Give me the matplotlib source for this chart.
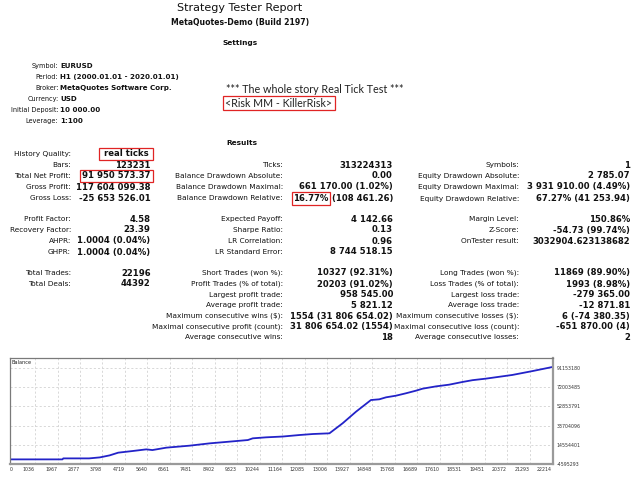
import matplotlib
matplotlib.use("Agg")
import matplotlib.pyplot as plt
from matplotlib.patches import Rectangle

# ---------------- data ----------------
report_title = "Strategy Tester Report"
report_subtitle = "MetaQuotes-Demo (Build 2197)"
settings_header = "Settings"
results_header = "Results"

settings_labels = ["Symbol:", "Period:", "Broker:", "Currency:", "Initial Deposit:", "Leverage:"]
settings_values = ["EURUSD", "H1 (2000.01.01 - 2020.01.01)", "MetaQuotes Software Corp.",
                   "USD", "10 000.00", "1:100"]

note_lines = ["*** The whole story Real Tick Test ***", "<Risk MM - KillerRisk>"]

history_label = "History Quality:"
history_value = "real ticks"

col1_labels = ["Bars:", "Total Net Profit:", "Gross Profit:", "Gross Loss:",
               "Profit Factor:", "Recovery Factor:", "AHPR:", "GHPR:",
               "Total Trades:", "Total Deals:", "", "", "", "", ""]
col1_values = ["123231", "91 950 573.37", "117 604 099.38", "-25 653 526.01",
               "4.58", "23.39", "1.0004 (0.04%)", "1.0004 (0.04%)",
               "22196", "44392", "", "", "", "", ""]
col2_labels = ["Ticks:", "Balance Drawdown Absolute:", "Balance Drawdown Maximal:",
               "Balance Drawdown Relative:", "Expected Payoff:", "Sharpe Ratio:",
               "LR Correlation:", "LR Standard Error:", "Short Trades (won %):",
               "Profit Trades (% of total):", "Largest profit trade:",
               "Average profit trade:", "Maximum consecutive wins ($):",
               "Maximal consecutive profit (count):", "Average consecutive wins:"]
col2_values = ["313224313", "0.00", "661 170.00 (1.02%)", "16.77%|(108 461.26)",
               "4 142.66", "0.13", "0.96", "8 744 518.15", "10327 (92.31%)",
               "20203 (91.02%)", "958 545.00", "5 821.12", "1554 (31 806 654.02)",
               "31 806 654.02 (1554)", "18"]
col3_labels = ["Symbols:", "Equity Drawdown Absolute:", "Equity Drawdown Maximal:",
               "Equity Drawdown Relative:", "Margin Level:", "Z-Score:",
               "OnTester result:", "", "Long Trades (won %):",
               "Loss Trades (% of total):", "Largest loss trade:", "Average loss trade:",
               "Maximum consecutive losses ($):", "Maximal consecutive loss (count):",
               "Average consecutive losses:"]
col3_values = ["1", "2 785.07", "3 931 910.00 (4.49%)", "67.27% (41 253.94)",
               "150.86%", "-54.73 (99.74%)", "3032904.623138682", "",
               "11869 (89.90%)", "1993 (8.98%)", "-279 365.00", "-12 871.81",
               "6 (-74 380.35)", "-651 870.00 (4)", "2"]

# balance curve (deal number vs balance)
balance_trades = [0, 2170, 2200, 3260, 3700, 4100, 4450, 5060, 5600, 5850, 6420,
                  7380, 8200, 9150, 9760, 9960, 10510, 11190, 11870, 12420, 13100,
                  13640, 14190, 14800, 15140, 15420, 15820, 16230, 16640, 16910,
                  17460, 18000, 18550, 18960, 19500, 20590, 21400, 22196]
balance_values = [10000, 10000, 1.0e6, 1.0e6, 2.0e6, 4.0e6, 6.7e6, 8.4e6, 10.0e6,
                  9.3e6, 11.7e6, 13.7e6, 16.0e6, 18.0e6, 19.3e6, 21.0e6, 22.0e6,
                  22.8e6, 24.3e6, 25.3e6, 26.0e6, 36.0e6, 47.6e6, 59.2e6, 59.9e6,
                  61.9e6, 63.5e6, 65.9e6, 68.5e6, 70.5e6, 72.8e6, 74.5e6, 77.2e6,
                  79.0e6, 80.5e6, 84.2e6, 88.0e6, 91960573]
x_ticks = [0, 1036, 1967, 2877, 3798, 4719, 5640, 6561, 7481, 8402, 9323, 10244,
           11164, 12085, 13006, 13927, 14848, 15768, 16689, 17610, 18531, 19451,
           20372, 21293, 22214]
y_ticks = [-4595293, 14554401, 33704096, 52853791, 72003485, 91153180]

# ---------------- layout ----------------
fig = plt.figure(figsize=(6.4, 4.8), dpi=100)
bg = fig.add_axes([0, 0, 1, 1])
bg.set_xlim(0, 640)
bg.set_ylim(480, 0)
bg.axis("off")

TXT = "#111111"
RED = "#e02424"
LBL_FS = 5.3
VAL_FS = 6.1

bg.text(240, 8, report_title, fontsize=8.0, ha="center", va="center", color=TXT)
bg.text(240, 22, report_subtitle, fontsize=5.6, fontweight="bold", ha="center",
        va="center", color=TXT)
bg.text(240, 43, settings_header, fontsize=5.3, fontweight="bold", ha="center",
        va="center", color=TXT)
bg.text(242, 143, results_header, fontsize=5.3, fontweight="bold", ha="center",
        va="center", color=TXT)

settings_y = [65.7, 77, 88.3, 99.3, 110.3, 121.3]
for lab, val, y in zip(settings_labels, settings_values, settings_y):
    bg.text(58.5, y, lab, fontsize=4.7, ha="right", va="center", color=TXT)
    bg.text(60.5, y, val, fontsize=5.1, fontweight="bold", ha="left", va="center",
            color=TXT)

renderer = fig.canvas.get_renderer()
inv = bg.transData.inverted()


def box_around(txt, padx=2.0, pady=1.5):
    bb = txt.get_window_extent(renderer)
    (x0, y0) = inv.transform((bb.x0, bb.y0))
    (x1, y1) = inv.transform((bb.x1, bb.y1))
    top, bot = min(y0, y1), max(y0, y1)
    bg.add_patch(Rectangle((x0 - padx, top - pady), (x1 - x0) + 2 * padx,
                           (bot - top) + 2 * pady, fill=False, edgecolor=RED,
                           linewidth=0.9))


bg.text(226, 89.3, note_lines[0], fontsize=7.75, family="Lato", ha="left",
        va="center", color="#222222")
t_note = bg.text(225, 103.3, note_lines[1], fontsize=7.7, family="Lato",
                 ha="left", va="center", color="#222222")
box_around(t_note, padx=2.5, pady=1.6)

# results
lab_x = [71, 283, 519]
val_x = [150.5, 393, 630]
bg.text(lab_x[0], 154, history_label, fontsize=LBL_FS, ha="right", va="center", color=TXT)
t_hist = bg.text(148.5, 154, history_value, fontsize=VAL_FS, fontweight="bold",
                 ha="right", va="center", color=TXT)
box_around(t_hist, padx=4.5, pady=1.8)

row_y = [165, 176, 187, 198.5, 219, 230, 241, 252, 273, 284, 294.5, 305.5, 316, 327, 337.5]
cols = [(col1_labels, col1_values), (col2_labels, col2_values), (col3_labels, col3_values)]
for ci, (labs, vals) in enumerate(cols):
    for lab, val, y in zip(labs, vals, row_y):
        if lab:
            bg.text(lab_x[ci], y, lab, fontsize=LBL_FS, ha="right", va="center",
                    color=TXT)
        if val:
            if "|" in val:
                first, second = val.split("|")
                t2 = bg.text(val_x[ci], y, second, fontsize=VAL_FS, fontweight="bold",
                             ha="right", va="center", color=TXT)
                bb = t2.get_window_extent(renderer)
                xl = inv.transform((bb.x0, bb.y0))[0]
                t1 = bg.text(xl - 3, y, first, fontsize=VAL_FS, fontweight="bold",
                             ha="right", va="center", color=TXT)
                box_around(t1, padx=1.5, pady=1.6)
            else:
                t = bg.text(val_x[ci], y, val, fontsize=VAL_FS, fontweight="bold",
                            ha="right", va="center", color=TXT)
                if ci == 0 and lab == "Total Net Profit:":
                    box_around(t, padx=2.5, pady=1.3)

# ---------------- balance chart ----------------
ax = fig.add_axes([9.5 / 640, 16 / 480, 543.5 / 640, 106 / 480])
ax.plot(balance_trades, balance_values, color="#2323c8", linewidth=1.3,
        solid_joinstyle="round")
ax.set_xlim(0, 22214 + 40)
ax.set_ylim(y_ticks[0], 101.1e6)
ax.set_xticks(x_ticks)
ax.set_xticklabels([str(v) for v in x_ticks])
ax.set_yticks(y_ticks)
ax.set_yticklabels([str(v) for v in y_ticks])
ax.yaxis.tick_right()
ax.tick_params(axis="both", length=0, labelsize=3.4, labelcolor="#333333")
ax.tick_params(axis="x", pad=2.2)
ax.tick_params(axis="y", pad=2.5)
for i, lbl in enumerate(ax.get_xticklabels()):
    lbl.set_ha("left" if i == 0 else "right")
ax.grid(True, color="#d2d2d2", linestyle=(0, (2.5, 2.5)), linewidth=0.6)
ax.set_axisbelow(True)
for side in ("left", "top"):
    ax.spines[side].set_color("#7a7a7a")
    ax.spines[side].set_linewidth(0.9)
for side in ("right", "bottom"):
    ax.spines[side].set_color("#9a9a9a")
    ax.spines[side].set_linewidth(1.6)
ax.text(0.004, 0.955, "Balance", transform=ax.transAxes, fontsize=3.6,
        ha="left", va="center", color="#222222")

fig.savefig("out.png", dpi=100)
